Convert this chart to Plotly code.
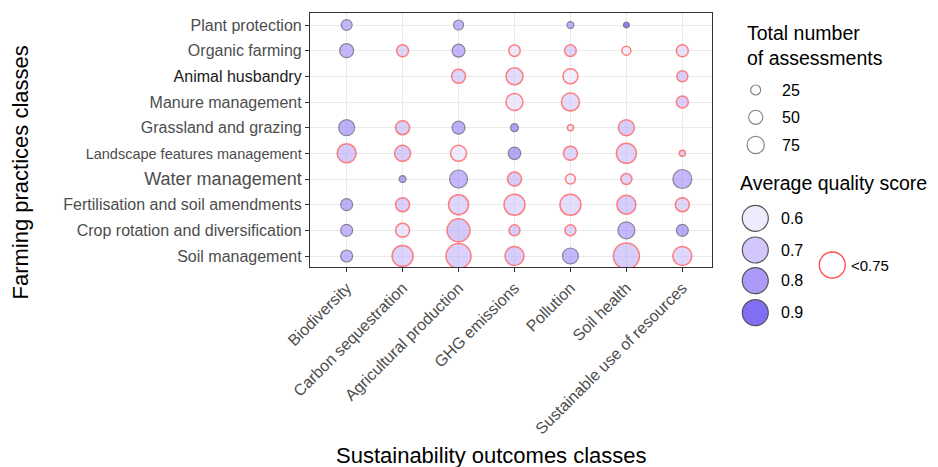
import plotly.graph_objects as go

# ---------------- data ----------------
outcomes = ["Biodiversity", "Carbon sequestration", "Agricultural production",
            "GHG emissions", "Pollution", "Soil health", "Sustainable use of resources"]
practices = ["Soil management", "Crop rotation and diversification",
             "Fertilisation and soil amendments", "Water management",
             "Landscape features management", "Grassland and grazing",
             "Manure management", "Animal husbandry", "Organic farming", "Plant protection"]

# total number of assessments per outcome (None = no assessment)
n_soil_management = [36, 110, 156, 90, 64, 169, 90]
n_crop_rotation   = [36, 49, 132, 30, 30, 72, 36]
n_fertilisation   = [36, 49, 100, 110, 110, 90, 49]
n_water           = [None, 12, 81, 49, 25, 30, 90]
n_landscape       = [90, 64, 64, 39, 49, 100, 9]
n_grassland       = [64, 49, 42, 16, 9, 64, None]
n_manure          = [None, None, None, 72, 81, None, 36]
n_animal          = [None, None, 49, 72, 56, None, 30]
n_organic         = [49, 36, 42, 33, 34, 20, 36]
n_plant           = [30, None, 25, None, 12, 9, None]

# average quality score per outcome
q_soil_management = [0.80, 0.71, 0.72, 0.73, 0.80, 0.73, 0.70]
q_crop_rotation   = [0.80, 0.64, 0.74, 0.73, 0.70, 0.80, 0.84]
q_fertilisation   = [0.82, 0.72, 0.70, 0.68, 0.67, 0.73, 0.70]
q_water           = [None, 0.85, 0.80, 0.73, 0.60, 0.70, 0.80]
q_landscape       = [0.74, 0.73, 0.62, 0.85, 0.70, 0.71, 0.70]
q_grassland       = [0.82, 0.72, 0.82, 0.86, 0.60, 0.73, None]
q_manure          = [None, None, None, 0.63, 0.68, None, 0.72]
q_animal          = [None, None, 0.70, 0.68, 0.60, None, 0.72]
q_organic         = [0.80, 0.70, 0.80, 0.62, 0.70, 0.60, 0.65]
q_plant           = [0.80, None, 0.80, None, 0.82, 0.97, None]

size_legend_values = [25, 50, 75]
score_legend_values = [0.6, 0.7, 0.8, 0.9]
score_threshold = 0.75

n_rows = [n_soil_management, n_crop_rotation, n_fertilisation, n_water, n_landscape,
          n_grassland, n_manure, n_animal, n_organic, n_plant]
q_rows = [q_soil_management, q_crop_rotation, q_fertilisation, q_water, q_landscape,
          q_grassland, q_manure, q_animal, q_organic, q_plant]

xs, ys, ns, qs = [], [], [], []
for p, nr, qr in zip(practices, n_rows, q_rows):
    for o, n, q in zip(outcomes, nr, qr):
        if n is None:
            continue
        xs.append(o); ys.append(p); ns.append(n); qs.append(q)

# ---------------- style ----------------
W, H = 938, 467
FONT = "Liberation Sans, Arial, sans-serif"
RED = "rgba(255,60,60,0.92)"
DARK = "rgba(60,50,80,0.8)"
colorscale = [[0.0, "rgba(235,230,252,0.82)"], [0.25, "rgba(200,186,250,0.82)"],
              [0.5, "rgba(155,132,246,0.82)"], [0.75, "rgba(100,78,240,0.82)"],
              [1.0, "rgba(40,22,210,0.82)"]]
CMIN, CMAX = 0.6, 1.0
SIZEREF = 0.5

def fx(px):
    return px / W

def fy(py):
    return 1 - py / H

line_cols = [RED if q < score_threshold else DARK for q in qs]
line_w = [1.5 if q < score_threshold else 1.2 for q in qs]

fig = go.Figure()
fig.add_trace(go.Scatter(
    x=xs, y=ys, mode="markers",
    marker=dict(size=ns, sizemode="area", sizeref=SIZEREF,
                color=qs, colorscale=colorscale, cmin=CMIN, cmax=CMAX,
                line=dict(color=line_cols, width=line_w)),
    xaxis="x", yaxis="y", hoverinfo="skip"))

# ---- legend keys (overlay axes in pixel units) ----
size_key_y = [90, 117.3, 145]
fig.add_trace(go.Scatter(
    x=[755.7] * 3, y=size_key_y, mode="markers",
    marker=dict(size=size_legend_values, sizemode="area", sizeref=SIZEREF,
                color="white", line=dict(color="#555555", width=1.2)),
    xaxis="x2", yaxis="y2", hoverinfo="skip"))
color_key_y = [218.3, 250, 280.7, 312.7]
fig.add_trace(go.Scatter(
    x=[755.3] * 4, y=color_key_y, mode="markers",
    marker=dict(size=26, color=score_legend_values, colorscale=colorscale,
                cmin=CMIN, cmax=CMAX, line=dict(color="#555555", width=1.2)),
    xaxis="x2", yaxis="y2", hoverinfo="skip"))
fig.add_trace(go.Scatter(
    x=[832.3], y=[265], mode="markers",
    marker=dict(size=26, color="white", line=dict(color=RED, width=1.3)),
    xaxis="x2", yaxis="y2", hoverinfo="skip"))

# y tick labels with individual sizes
tick_size = {"Water management": 18, "Landscape features management": 14.5}
tick_color = {"Animal husbandry": "#1a1a1a"}
ticktext = [f'<span style="font-size:{tick_size.get(p, 16)}px;fill:{tick_color.get(p, "#4D4D4D")}">{p}</span>'
            for p in practices]

ann = []
ann.append(dict(text="Farming practices classes", x=fx(20), y=fy(172.5), textangle=-90,
                xanchor="center", yanchor="middle", font=dict(size=22, color="black")))
ann.append(dict(text="Sustainability outcomes classes", x=fx(491), y=fy(455),
                xanchor="center", yanchor="middle", font=dict(size=22, color="black")))
ann.append(dict(text="Total number<br>of assessments", x=fx(745), y=fy(45), align="left",
                xanchor="left", yanchor="middle", font=dict(size=19.5, color="black")))
ann.append(dict(text="Average quality score", x=fx(738), y=fy(183),
                xanchor="left", yanchor="middle", font=dict(size=19.5, color="black")))
for v, yy in zip(size_legend_values, size_key_y):
    ann.append(dict(text=str(v), x=fx(780), y=fy(yy), xanchor="left", yanchor="middle",
                    font=dict(size=16, color="black")))
for v, yy in zip(score_legend_values, color_key_y):
    ann.append(dict(text=f"{v:.1f}", x=fx(779), y=fy(yy), xanchor="left", yanchor="middle",
                    font=dict(size=16, color="black")))
ann.append(dict(text=f"<{score_threshold}", x=fx(849), y=fy(265), xanchor="left",
                yanchor="middle", font=dict(size=15, color="black")))
for a in ann:
    a.update(xref="paper", yref="paper", showarrow=False)

fig.update_layout(
    width=W, height=H,
    margin=dict(l=0, r=0, t=0, b=0, pad=0),
    paper_bgcolor="white", plot_bgcolor="rgba(0,0,0,0)",
    showlegend=False,
    font=dict(family=FONT, color="#4D4D4D"),
    annotations=ann,
    xaxis=dict(domain=[fx(310), fx(711.7)], type="category", automargin=False,
               categoryorder="array", categoryarray=outcomes,
               range=[-0.655, 6.525], tickangle=-45,
               ticks="outside", ticklen=4, tickwidth=1, tickcolor="#333333",
               showgrid=True, gridcolor="#EBEBEB", gridwidth=1.3,
               showline=True, linecolor="#333333", linewidth=1.2, mirror=True,
               zeroline=False, tickfont=dict(size=16, color="#4D4D4D")),
    yaxis=dict(domain=[fy(267.3), fy(12.7)], type="category", automargin=False,
               categoryorder="array", categoryarray=practices,
               tickmode="array", tickvals=practices, ticktext=ticktext,
               range=[-0.44, 9.48],
               ticks="outside", ticklen=4, tickwidth=1, tickcolor="#333333",
               showgrid=True, gridcolor="#EBEBEB", gridwidth=1.3,
               showline=True, linecolor="#333333", linewidth=1.2, mirror=True,
               zeroline=False, tickfont=dict(size=16, color="#4D4D4D")),
    xaxis2=dict(domain=[0, 1], range=[0, W], visible=False, anchor="y2",
                showgrid=False, zeroline=False, automargin=False),
    yaxis2=dict(domain=[0, 1], range=[H, 0], visible=False, anchor="x2",
                showgrid=False, zeroline=False, automargin=False),
)

fig.write_html("out.html", config={"displayModeBar": False},
               post_script="document.body.style.margin='0';")
